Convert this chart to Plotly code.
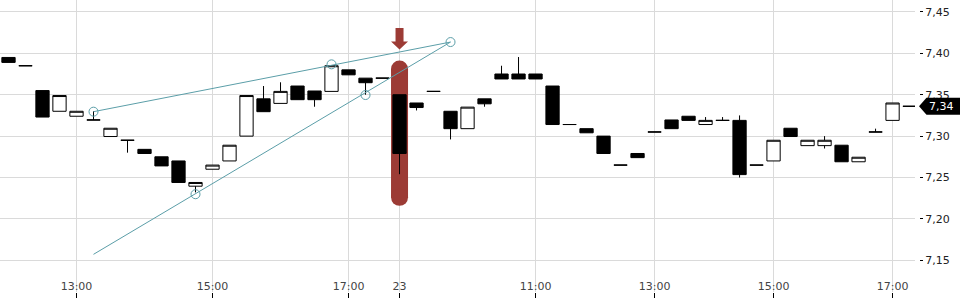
import plotly.graph_objects as go

# ---- data (15-minute candles, index positions) ----
idx = list(range(54))
opens = [7.395, 7.385, 7.355, 7.330, 7.324, 7.3195, 7.2995, 7.295, 7.284, 7.275,
         7.270, 7.2395, 7.260, 7.270, 7.300, 7.345, 7.3395, 7.3605, 7.3545, 7.354,
         7.380, 7.370, 7.370, 7.350, 7.340, 7.354, 7.330, 7.309, 7.345, 7.375,
         7.375, 7.375, 7.3605, 7.314, 7.309, 7.300, 7.265, 7.279, 7.305, 7.3195,
         7.324, 7.314, 7.319, 7.319, 7.265, 7.270, 7.3095, 7.2885, 7.2885, 7.289,
         7.269, 7.305, 7.319, 7.336]
highs = [7.395, 7.385, 7.355, 7.349, 7.330, 7.330, 7.3095, 7.295, 7.284, 7.275,
         7.270, 7.244, 7.265, 7.289, 7.349, 7.3605, 7.365, 7.3605, 7.3545, 7.385,
         7.380, 7.370, 7.370, 7.350, 7.340, 7.354, 7.330, 7.335, 7.345, 7.385,
         7.3955, 7.375, 7.3605, 7.314, 7.309, 7.300, 7.265, 7.279, 7.305, 7.3195,
         7.324, 7.323, 7.323, 7.325, 7.265, 7.295, 7.3095, 7.295, 7.300, 7.289,
         7.2745, 7.309, 7.340, 7.336]
lows = [7.389, 7.385, 7.323, 7.330, 7.324, 7.3195, 7.2995, 7.280, 7.279, 7.264,
        7.244, 7.232, 7.260, 7.270, 7.300, 7.3295, 7.3395, 7.344, 7.3355, 7.354,
        7.374, 7.350, 7.370, 7.254, 7.331, 7.354, 7.296, 7.309, 7.3355, 7.369,
        7.369, 7.369, 7.314, 7.314, 7.304, 7.279, 7.265, 7.274, 7.305, 7.309,
        7.319, 7.314, 7.319, 7.250, 7.265, 7.270, 7.2995, 7.2885, 7.285, 7.269,
        7.269, 7.305, 7.319, 7.336]
closes = [7.389, 7.385, 7.323, 7.349, 7.330, 7.3195, 7.3095, 7.295, 7.279, 7.264,
          7.244, 7.244, 7.265, 7.289, 7.349, 7.3295, 7.354, 7.344, 7.344, 7.385,
          7.374, 7.3645, 7.370, 7.279, 7.3345, 7.354, 7.309, 7.335, 7.339, 7.369,
          7.369, 7.369, 7.314, 7.314, 7.304, 7.279, 7.265, 7.274, 7.305, 7.309,
          7.319, 7.319, 7.319, 7.2535, 7.265, 7.295, 7.2995, 7.295, 7.295, 7.269,
          7.2745, 7.305, 7.340, 7.336]

tick_pos = [4, 12, 20, 23, 31, 38, 45, 52]
tick_text = ["13:00", "15:00", "17:00", "23", "11:00", "13:00", "15:00", "17:00"]
y_ticks = [7.15, 7.20, 7.25, 7.30, 7.35, 7.40, 7.45]
y_range = [7.1117, 7.4644]
x_range = [-0.5, 53.32]

# trend drawing anchor points
upper_x = [5, 26]
upper_y = [7.3295, 7.4136]
lower_x = [5, 26]
lower_y = [7.1572, 7.4136]
circle_x = [5, 11, 19, 21, 26]
circle_y = [7.3295, 7.2298, 7.3867, 7.3496, 7.4136]

# highlighted candle
hl_idx = 23
hl_top = 7.381
hl_bottom = 7.226

RED = "#9c3b35"
TEAL = "#5b9ea8"
GRID = "#dadada"
FONT = "DejaVu Sans"

fig = go.Figure()
fig.add_trace(go.Candlestick(
    x=idx, open=opens, high=highs, low=lows, close=closes,
    increasing=dict(fillcolor="white", line=dict(color="black", width=1)),
    decreasing=dict(fillcolor="black", line=dict(color="black", width=1)),
    whiskerwidth=0, hoverinfo="skip", showlegend=False,
))
fig.add_trace(go.Scatter(x=upper_x, y=upper_y, mode="lines",
                         line=dict(color=TEAL, width=1), hoverinfo="skip", showlegend=False))
fig.add_trace(go.Scatter(x=lower_x, y=lower_y, mode="lines",
                         line=dict(color=TEAL, width=1), hoverinfo="skip", showlegend=False))
fig.add_trace(go.Scatter(x=circle_x, y=circle_y, mode="markers",
                         marker=dict(symbol="circle-open", size=9, color=TEAL,
                                     line=dict(width=1, color=TEAL)),
                         hoverinfo="skip", showlegend=False))
# invisible trace to carry the tick axis
fig.add_trace(go.Scatter(x=[idx[-1]], y=[closes[-1]], yaxis="y2", mode="markers",
                         marker=dict(opacity=0), hoverinfo="skip", showlegend=False))

shapes = []
# highlight bar: rect + rounded ends
shapes.append(dict(type="rect", xref="x", yref="y", xsizemode="pixel", xanchor=hl_idx,
                   x0=-8.5, x1=8.5, y0=hl_bottom, y1=hl_top,
                   fillcolor=RED, line=dict(width=0), layer="between"))
for yy in (hl_top, hl_bottom):
    shapes.append(dict(type="circle", xref="x", yref="y", xsizemode="pixel", ysizemode="pixel",
                       xanchor=hl_idx, yanchor=yy, x0=-8.5, x1=8.5, y0=-8.5, y1=8.5,
                       fillcolor=RED, line=dict(width=0), layer="between"))
# down arrow above highlighted candle
shapes.append(dict(type="path", xref="x", yref="paper", xsizemode="pixel", ysizemode="pixel",
                   xanchor=hl_idx, yanchor=1,
                   path="M -4,-28 L 4,-28 L 4,-41.5 L 8.5,-41.5 L 0,-49.5 L -8.5,-41.5 L -4,-41.5 Z",
                   fillcolor=RED, line=dict(width=0), layer="above"))
# last price label
shapes.append(dict(type="path", xref="paper", yref="y", xsizemode="pixel", ysizemode="pixel",
                   xanchor=1, yanchor=closes[-1],
                   path="M -41,0 L -33.5,8.5 L 0,8.5 L 0,-8.5 L -33.5,-8.5 Z",
                   fillcolor="black", line=dict(width=0), layer="above"))

last_label = f"{closes[-1]:.2f}".replace(".", ",")

fig.update_layout(
    width=960, height=300,
    margin=dict(l=0, r=0, t=0, b=8),
    paper_bgcolor="white", plot_bgcolor="white",
    separators=",.",
    font=dict(family=FONT, size=11, color="#222222"),
    boxgap=0.22, boxgroupgap=0,
    showlegend=False,
    shapes=shapes,
    annotations=[dict(xref="paper", yref="y", x=1, y=closes[-1], xanchor="right",
                      yanchor="middle", xshift=-4, text=last_label, showarrow=False,
                      font=dict(family=FONT, size=11, color="white"))],
    xaxis=dict(domain=[0, 915 / 960], range=x_range, tickmode="array", tickvals=tick_pos,
               ticktext=tick_text, showgrid=True, gridcolor=GRID, gridwidth=1,
               zeroline=False, showline=False, ticks="outside", ticklen=5, tickcolor="black",
               tickwidth=1, ticklabelposition="inside", ticklabelstandoff=-3,
               rangeslider=dict(visible=False), fixedrange=True),
    yaxis=dict(range=y_range, tickvals=y_ticks, showgrid=True, gridcolor=GRID, gridwidth=1,
               zeroline=False, showline=False, showticklabels=False, ticks="", side="right",
               fixedrange=True),
    yaxis2=dict(range=y_range, tickvals=y_ticks, tickformat=".2f", overlaying="y",
                anchor="free", position=919 / 960, side="right", showgrid=False,
                zeroline=False, showline=False, ticks="outside", ticklen=3, tickcolor="black",
                tickwidth=1, fixedrange=True),
)

fig.write_html("out.html")
